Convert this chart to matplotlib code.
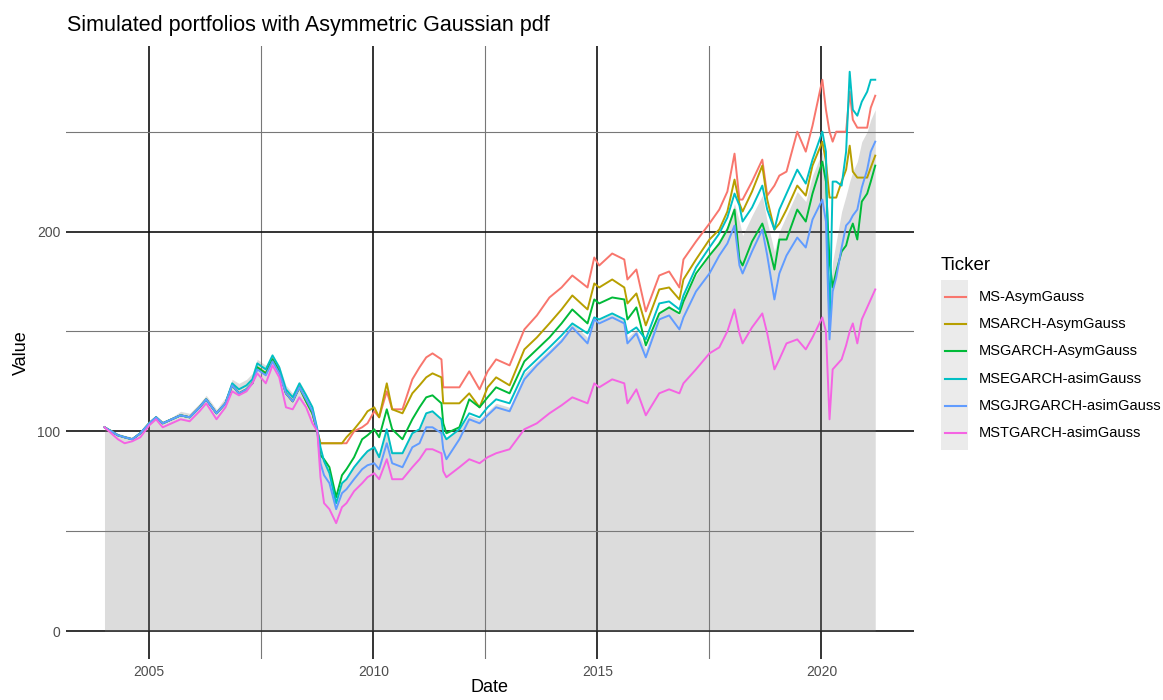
import matplotlib
matplotlib.use("Agg")
import matplotlib.pyplot as plt
from matplotlib.lines import Line2D
from matplotlib.patches import Rectangle

plt.rcParams['font.family'] = ['Liberation Sans', 'DejaVu Sans']

# dates as fractional years, one line per calendar year
dates = [2004.00, 2004.15, 2004.30, 2004.45, 2004.62, 2004.80,
         2005.00, 2005.15, 2005.30, 2005.50, 2005.70, 2005.90,
         2006.12, 2006.27, 2006.50, 2006.70, 2006.85,
         2007.00, 2007.17, 2007.30, 2007.41, 2007.60, 2007.75, 2007.90,
         2008.05, 2008.20, 2008.35, 2008.50, 2008.64, 2008.75, 2008.82, 2008.90,
         2009.02, 2009.17, 2009.30, 2009.40, 2009.57, 2009.75, 2009.87,
         2010.02, 2010.13, 2010.30, 2010.42, 2010.65, 2010.87,
         2011.03, 2011.18, 2011.32, 2011.52, 2011.56, 2011.63, 2011.92,
         2012.14, 2012.37, 2012.55, 2012.74,
         2013.04, 2013.37, 2013.65, 2013.93,
         2014.20, 2014.44, 2014.78, 2014.93,
         2015.04, 2015.33, 2015.60, 2015.67, 2015.87,
         2016.08, 2016.38, 2016.60, 2016.83, 2016.92,
         2017.20, 2017.50, 2017.72, 2017.90,
         2018.06, 2018.17, 2018.24, 2018.45, 2018.68, 2018.79, 2018.95,
         2019.06, 2019.22, 2019.46, 2019.65, 2019.80,
         2020.02, 2020.10, 2020.18, 2020.25, 2020.33, 2020.45, 2020.55, 2020.63, 2020.70, 2020.80, 2020.90,
         2021.02, 2021.10, 2021.20]

ms_asym = [102, 100, 98, 97, 96, 99,
           104, 107, 104, 106, 108, 107,
           112, 116, 109, 114, 123,
           119, 121, 124, 132, 129, 136, 130,
           119, 115, 122, 115, 109, 100, 94, 94,
           94, 94, 94, 94, 100, 102, 104,
           110, 107, 120, 111, 111, 126,
           132, 137, 139, 136, 122, 122, 122,
           130, 121, 130, 136,
           133, 151, 158, 167,
           172, 178, 172, 187,
           183, 189, 186, 176, 181,
           160, 178, 180, 172, 186,
           195, 204, 211, 220,
           239, 216, 216, 225, 236, 218, 223,
           228, 230, 250, 240, 253,
           276, 261, 250, 245, 250, 250, 250, 270, 256, 252, 252,
           252, 262, 268]

msarch_asym = [102, 100, 98, 97, 96, 99,
               104, 107, 104, 106, 108, 107,
               112, 116, 109, 114, 123,
               119, 121, 124, 132, 129, 136, 130,
               119, 115, 122, 115, 109, 100, 94, 94,
               94, 94, 94, 97, 101, 106, 110,
               112, 107, 124, 111, 109, 119,
               123, 127, 129, 127, 114, 114, 114,
               119, 112, 122, 127,
               123, 141, 147, 154,
               161, 168, 161, 174,
               172, 176, 172, 164, 169,
               153, 171, 172, 166, 176,
               186, 196, 201, 210,
               226, 214, 210, 220, 233, 216, 201,
               204, 211, 223, 218, 233,
               245, 235, 217, 217, 217, 225, 231, 243, 230, 227, 227,
               227, 232, 238]

msgarch_asym = [102, 100, 98, 97, 96, 99,
                104, 107, 104, 106, 108, 107,
                112, 116, 109, 114, 123,
                119, 121, 124, 132, 129, 136, 130,
                119, 115, 122, 115, 109, 100, 88, 86,
                82, 67, 78, 81, 87, 96, 98,
                101, 97, 111, 101, 96, 106,
                112, 117, 118, 114, 104, 99, 102,
                116, 112, 117, 122,
                119, 135, 141, 147,
                154, 161, 154, 166,
                164, 167, 166, 156, 162,
                143, 159, 162, 159, 165,
                179, 188, 194, 201,
                211, 186, 183, 195, 204, 196, 181,
                196, 196, 211, 205, 219,
                235, 225, 185, 172, 180, 190, 193, 200, 204, 196, 215,
                219, 225, 233]

msegarch_asim = [102, 100, 98, 97, 96, 99,
                 104, 107, 104, 106, 108, 107,
                 112, 116, 109, 114, 124,
                 121, 123, 126, 134, 131, 138, 132,
                 121, 117, 124, 118, 112, 101, 92, 85,
                 79, 64, 74, 76, 82, 87, 90,
                 92, 87, 101, 89, 89, 99,
                 101, 109, 110, 106, 99, 96, 101,
                 109, 107, 112, 116,
                 114, 130, 136, 142,
                 148, 154, 149, 157,
                 156, 159, 156, 149, 152,
                 146, 164, 165, 161, 168,
                 182, 192, 199, 207,
                 219, 213, 205, 212, 223, 211, 201,
                 211, 219, 231, 224, 236,
                 250, 240, 150, 225, 225, 223, 240, 280, 261, 258, 265,
                 270, 276, 276]

msgjrgarch_asim = [102, 100, 98, 97, 96, 99,
                   104, 107, 104, 106, 108, 107,
                   112, 116, 109, 114, 123,
                   119, 121, 124, 131, 128, 135, 129,
                   119, 115, 122, 116, 110, 100, 84, 78,
                   74, 61, 69, 71, 76, 81, 83,
                   84, 81, 94, 84, 82, 92,
                   94, 102, 102, 99, 91, 86, 96,
                   106, 104, 108, 112,
                   110, 126, 133, 139,
                   145, 152, 144, 156,
                   154, 157, 154, 144, 149,
                   137, 156, 158, 151, 157,
                   170, 179, 188, 194,
                   203, 183, 179, 190, 201, 188, 166,
                   179, 188, 197, 192, 206,
                   216, 205, 146, 170, 177, 192, 203, 205, 208, 211, 222,
                   231, 240, 245]

mstgarch_asim = [102, 99, 96, 94, 95, 97,
                 103, 106, 102, 104, 106, 105,
                 110, 114, 106, 112, 120,
                 118, 120, 124, 129, 124, 133, 127,
                 112, 111, 117, 112, 104, 100, 77, 64,
                 61, 54, 62, 64, 70, 74, 77,
                 79, 76, 86, 76, 76, 82,
                 86, 91, 91, 89, 80, 77, 82,
                 86, 84, 87, 89,
                 91, 101, 104, 109,
                 113, 117, 114, 124,
                 122, 126, 124, 114, 121,
                 108, 119, 121, 119, 124,
                 131, 139, 142, 150,
                 161, 149, 144, 152, 159, 149, 131,
                 136, 144, 146, 141, 147,
                 157, 150, 106, 131, 133, 136, 143, 150, 154, 144, 156,
                 162, 166, 171]

# grey benchmark area
benchmark = [102, 101, 99, 98, 97, 100,
             105, 108, 105, 107, 110, 109,
             114, 118, 111, 117, 126,
             124, 126, 129, 136, 133, 138, 133,
             123, 119, 125, 119, 113, 102, 92, 86,
             80, 65, 74, 77, 83, 88, 91,
             93, 88, 101, 90, 90, 100,
             101, 109, 110, 106, 99, 96, 101,
             108, 106, 110, 114,
             112, 129, 135, 141,
             147, 154, 147, 157,
             156, 159, 156, 147, 151,
             141, 160, 163, 158, 166,
             178, 188, 196, 203,
             214, 205, 198, 208, 218, 205, 190,
             200, 208, 220, 215, 228,
             240, 225, 165, 185, 195, 210, 218, 225, 230, 235, 245,
             250, 256, 261]

tickers = ['MS-AsymGauss', 'MSARCH-AsymGauss', 'MSGARCH-AsymGauss',
           'MSEGARCH-asimGauss', 'MSGJRGARCH-asimGauss', 'MSTGARCH-asimGauss']
series = [ms_asym, msarch_asym, msgarch_asym, msegarch_asim, msgjrgarch_asim, mstgarch_asim]
colors = ['#F8766D', '#B79F00', '#00BA38', '#00BFC4', '#619CFF', '#F564E3']

fig = plt.figure(figsize=(11.63, 7.0), dpi=100)
ax = fig.add_axes([0.0567, 0.0586, 0.729, 0.876])

ax.fill_between(dates, 0, benchmark, color='#7F7F7F', alpha=0.27, lw=0, zorder=2)
for vals, c in zip(series, colors):
    ax.plot(dates, vals, color=c, lw=1.4, zorder=3)

ax.set_xlim(2003.14, 2022.06)
ax.set_ylim(-14, 293)
ax.set_xticks([2005, 2010, 2015, 2020])
ax.set_xticks([2007.5, 2012.5, 2017.5], minor=True)
ax.set_yticks([0, 100, 200])
ax.set_yticks([50, 150, 250], minor=True)
ax.grid(which='major', color='#111111', lw=1.2, zorder=1)
ax.grid(which='minor', color='#777777', lw=0.8, zorder=1)
ax.set_axisbelow(True)
ax.tick_params(which='both', length=0, labelsize=10, labelcolor='#4D4D4D', pad=4)
for s in ax.spines.values():
    s.set_visible(False)

ax.set_xlabel('Date', fontsize=13, labelpad=0)
ax.set_ylabel('Value', fontsize=13, labelpad=5)
fig.text(0.058, 0.964, 'Simulated portfolios with Asymmetric Gaussian pdf',
         fontsize=15.5, va='center', ha='left')

# legend
W, H = 1163, 700
fig.text(941 / W, 1 - 265 / H, 'Ticker', fontsize=13.5, va='center', ha='left')
fig.patches.append(Rectangle((941 / W, 1 - 450 / H), 27 / W, 170 / H,
                             transform=fig.transFigure, color='#EBEBEB', lw=0))
for i, (name, c) in enumerate(zip(tickers, colors)):
    y = 1 - (297 + i * 27.2) / H
    fig.lines.append(Line2D([945 / W, 966 / W], [y, y], transform=fig.transFigure,
                            color=c, lw=1.5))
    fig.text(979 / W, y, name, fontsize=10.5, va='center', ha='left')

fig.savefig('out.png', dpi=100)
